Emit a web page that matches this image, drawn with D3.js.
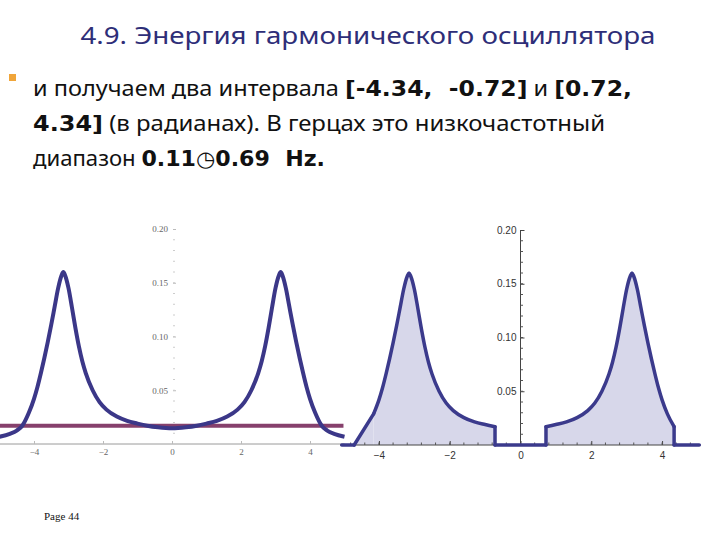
<!DOCTYPE html>
<html>
<head>
<meta charset="utf-8">
<script src="https://cdn.jsdelivr.net/npm/d3@7"></script>
<style>
  html, body { margin: 0; padding: 0; background: #ffffff; }
  svg { display: block; }
</style>
</head>
<body>
<svg id="chart" width="720" height="540"></svg>
<script>
// ---------- data ----------
const titleText = "4.9. Энергия гармонического осциллятора";
const pageLabel = "Page 44";

// frequency (radians) and spectral density
const freq = [-5.0, -4.7, -4.5, -4.34, -4.15, -4.0, -3.9, -3.8, -3.7, -3.6, -3.5, -3.4, -3.3, -3.2, -3.15,
  -3.1, -3.0, -2.9, -2.8, -2.7, -2.6, -2.5, -2.3, -2.1, -1.9, -1.6, -1.3, -1.0, -0.72, -0.4,
  0.0, 0.4, 0.72, 1.0, 1.3, 1.6, 1.9, 2.1, 2.3, 2.5, 2.6, 2.7, 2.8, 2.9, 3.0,
  3.1, 3.15, 3.2, 3.3, 3.4, 3.5, 3.6, 3.7, 3.8, 3.9, 4.0, 4.15, 4.34, 4.5, 4.7, 5.0];
const density = [0.0068, 0.0095, 0.0125, 0.017, 0.029, 0.042, 0.053, 0.066, 0.080, 0.095, 0.111, 0.128, 0.145, 0.157, 0.160,
  0.157, 0.145, 0.127, 0.108, 0.091, 0.077, 0.066, 0.050, 0.039, 0.032, 0.0255, 0.0215, 0.019, 0.017, 0.0155,
  0.0146, 0.0155, 0.017, 0.019, 0.0215, 0.0255, 0.032, 0.039, 0.050, 0.066, 0.077, 0.091, 0.108, 0.127, 0.145,
  0.157, 0.160, 0.157, 0.145, 0.128, 0.111, 0.095, 0.080, 0.066, 0.053, 0.042, 0.029, 0.017, 0.0125, 0.0095, 0.0068];

const threshold = 0.017;                 // horizontal cut level
const bandStart = [-4.34, 0.72];         // selected intervals
const bandEnd   = [-0.72, 4.34];
const rampStart = -4.70;                 // sampled start of left band in right plot

const xTicks = [-4, -2, 0, 2, 4];
const yTicks = [0.05, 0.10, 0.15, 0.20];

// ---------- drawing ----------
const svg = d3.select("#chart");

// Title
svg.append("text")
  .attr("x", 368).attr("y", 44)
  .attr("text-anchor", "middle")
  .attr("font-family", "'Noto Sans', 'DejaVu Sans', sans-serif")
  .attr("font-size", 24)
  .attr("fill", "#2e2e78")
  .attr("textLength", 575).attr("lengthAdjust", "spacingAndGlyphs")
  .text(titleText);

// Bullet
svg.append("rect").attr("x", 9).attr("y", 74).attr("width", 7).attr("height", 7).attr("fill", "#f0a53a");

const bodyLines = [
  { y: 96, len: 599, parts: [["и получаем два интервала ", false], ["[-4.34,  -0.72]", true], [" и ", false], ["[0.72,", true]] },
  { y: 131, len: 572, parts: [["4.34]", true], [" (в радианах). В герцах это низкочастотный", false]] },
  { y: 166, len: 292, parts: [["диапазон ", false], ["0.11◷0.69  Hz.", true]] }
];
bodyLines.forEach(l => {
  const t = svg.append("text")
    .attr("x", 33).attr("y", l.y)
    .attr("font-family", "'Noto Sans', 'DejaVu Sans', sans-serif")
    .attr("font-size", 21)
    .attr("fill", "#111")
    .attr("textLength", l.len).attr("lengthAdjust", "spacingAndGlyphs");
  l.parts.forEach(p => {
    t.append("tspan")
      .attr("font-family", p[1] ? "'DejaVu Sans', sans-serif" : "'Noto Sans', sans-serif")
      .attr("font-weight", p[1] ? "bold" : "normal")
      .attr("xml:space", "preserve")
      .text(p[0]);
  });
});

const pts = freq.map((f, i) => [f, density[i]]);

// ---------- left plot ----------
const xL = d3.scaleLinear([-5, 5], [-0.5, 344.5]);
const yL = d3.scaleLinear([0, 0.2], [444, 229]);
const gL = svg.append("g");

// x axis
const axL = gL.append("g").attr("transform", "translate(0,444)")
  .call(d3.axisBottom(xL).tickValues(xTicks).tickSize(-3).tickPadding(5).tickFormat(d3.format("d")));
axL.select(".domain").attr("stroke", "#9a9a9a").attr("d", `M${xL(-5)},0H${xL(5)}`);
axL.selectAll(".tick line").attr("stroke", "#bbb");
axL.selectAll("text").attr("font-family", "'Liberation Serif', serif").attr("font-size", 9).attr("fill", "#666");

// y axis (ticks only)
const ayL = gL.append("g").attr("transform", `translate(${xL(0) + 1},0)`)
  .call(d3.axisLeft(yL).tickValues(yTicks).tickSize(-3).tickPadding(5).tickFormat(d3.format(".2f")));
ayL.select(".domain").remove();
ayL.selectAll(".tick line").attr("stroke", "#bbb");
ayL.selectAll("text").attr("font-family", "'Liberation Serif', serif").attr("font-size", 9).attr("fill", "#666");
gL.append("g").selectAll("line").data(d3.range(0.01, 0.2, 0.01))
  .join("line").attr("x1", xL(0) + 1).attr("x2", xL(0) + 3)
  .attr("y1", d => yL(d)).attr("y2", d => yL(d)).attr("stroke", "#ccc");

// threshold line
gL.append("line")
  .attr("x1", xL(-5)).attr("x2", xL(4.97))
  .attr("y1", yL(threshold)).attr("y2", yL(threshold))
  .attr("stroke", "#86406c").attr("stroke-width", 4);

// curve
gL.append("path").datum(pts)
  .attr("fill", "none").attr("stroke", "#3b3788").attr("stroke-width", 4).attr("stroke-linejoin", "round")
  .attr("d", d3.line().x(d => xL(d[0])).y(d => yL(d[1])).curve(d3.curveMonotoneX));

// ---------- right plot ----------
const xR = d3.scaleLinear([-5.1, 5.1], [340, 701]);
const yR = d3.scaleLinear([0, 0.2], [445, 230]);
const gR = svg.append("g");

// lobes
const lobes = bandStart.map((s, i) => {
  const e = bandEnd[i];
  let inner = pts.filter(p => p[0] >= s && p[0] <= e);
  if (i === 0) inner = pts.filter(p => p[0] > s && p[0] <= e); // sampled left edge
  return { s, e, inner, ramp: i === 0 };
});

const lineMono = d3.line().x(d => xR(d[0])).y(d => yR(d[1])).curve(d3.curveMonotoneX);
const lineLin = d3.line().x(d => xR(d[0])).y(d => yR(d[1]));

lobes.forEach(lb => {
  const first = lb.inner[0], last = lb.inner[lb.inner.length - 1];
  const startX = lb.ramp ? rampStart : first[0];
  // fill: area under the curve
  const areaPts = [[startX, 0]].concat(lb.inner).concat([[last[0], 0]]);
  gR.append("path").datum(lb.inner)
    .attr("fill", "#d7d7ea")
    .attr("d", () => {
      const a = d3.area().x(d => xR(d[0])).y0(yR(0)).y1(d => yR(d[1])).curve(d3.curveMonotoneX)(lb.inner);
      return a;
    });
  gR.append("path").datum([[startX, 0], first, [first[0], 0]])
    .attr("fill", "#d7d7ea").attr("d", lineLin);
});

// axes
const axR = gR.append("g").attr("transform", `translate(0,${yR(0)})`)
  .call(d3.axisBottom(xR).tickValues(xTicks).tickSize(-4).tickPadding(7).tickFormat(d3.format("d")));
axR.select(".domain").attr("stroke", "#444").attr("d", `M${xR(-5.1)},0H${xR(5.1)}`);
axR.selectAll(".tick line").attr("stroke", "#444");
axR.selectAll("text").attr("font-family", "'Liberation Sans', Arial, sans-serif").attr("font-size", 10).attr("fill", "#333");
gR.append("g").selectAll("line").data(d3.range(-4.8, 4.9, 0.4))
  .join("line").attr("x1", d => xR(d)).attr("x2", d => xR(d))
  .attr("y1", yR(0)).attr("y2", yR(0) - 2.5).attr("stroke", "#555");

const ayR = gR.append("g").attr("transform", `translate(${xR(0)},0)`)
  .call(d3.axisLeft(yR).tickValues(yTicks).tickSize(-4).tickPadding(4).tickFormat(d3.format(".2f")));
ayR.select(".domain").attr("stroke", "#444").attr("d", `M0,${yR(0)}V${yR(0.2)}`);
ayR.selectAll(".tick line").attr("stroke", "#444");
ayR.selectAll("text").attr("font-family", "'Liberation Sans', Arial, sans-serif").attr("font-size", 10).attr("fill", "#333");
gR.append("g").selectAll("line").data(d3.range(0.01, 0.2, 0.01))
  .join("line").attr("x1", xR(0)).attr("x2", xR(0) + 2.5)
  .attr("y1", d => yR(d)).attr("y2", d => yR(d)).attr("stroke", "#555");

// outline of the banded density
const stroke = "#3b3a8c";
const sw = 3.5;
const baseSegs = [
  [[-5.05, 0], [rampStart, 0]],
  [[bandEnd[0], 0], [bandStart[1], 0]],
  [[bandEnd[1], 0], [5.05, 0]]
];
baseSegs.forEach(seg => gR.append("path").datum(seg)
  .attr("fill", "none").attr("stroke", stroke).attr("stroke-width", sw).attr("stroke-linecap", "round")
  .attr("d", lineLin));
lobes.forEach(lb => {
  const first = lb.inner[0], last = lb.inner[lb.inner.length - 1];
  const lead = lb.ramp ? [[rampStart, 0], first] : [[first[0], 0], first];
  gR.append("path").datum(lead)
    .attr("fill", "none").attr("stroke", stroke).attr("stroke-width", sw).attr("stroke-linecap", "round")
    .attr("d", lineLin);
  gR.append("path").datum(lb.inner)
    .attr("fill", "none").attr("stroke", stroke).attr("stroke-width", sw)
    .attr("stroke-linecap", "round").attr("stroke-linejoin", "round")
    .attr("d", lineMono);
  gR.append("path").datum([last, [last[0], 0]])
    .attr("fill", "none").attr("stroke", stroke).attr("stroke-width", sw).attr("stroke-linecap", "round")
    .attr("d", lineLin);
});

// Page label
svg.append("text")
  .attr("x", 44).attr("y", 520)
  .attr("font-family", "'Liberation Serif', 'Times New Roman', serif")
  .attr("font-size", 11).attr("fill", "#111")
  .text(pageLabel);
</script>
</body>
</html>
